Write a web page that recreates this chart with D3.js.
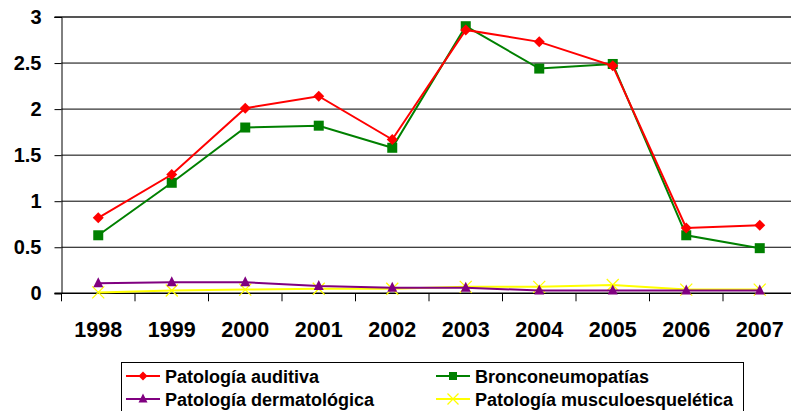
<!DOCTYPE html>
<html><head><meta charset="utf-8">
<script src="https://cdn.jsdelivr.net/npm/d3@7"></script>
<style>body{margin:0;background:#fff}svg{display:block;font-family:"Liberation Sans",Arial,sans-serif;font-weight:bold}</style>
</head><body><svg id="c" width="791" height="411"></svg>
<script>
const years = ["1998","1999","2000","2001","2002","2003","2004","2005","2006","2007"];
const auditiva = [0.82,1.29,2.01,2.14,1.67,2.86,2.73,2.47,0.71,0.74];
const bronco = [0.63,1.20,1.80,1.82,1.58,2.90,2.44,2.49,0.63,0.49];
const dermato = [0.11,0.12,0.12,0.08,0.06,0.06,0.03,0.03,0.03,0.03];
const musculo = [0.01,0.03,0.04,0.05,0.05,0.07,0.07,0.09,0.04,0.04];
const yTicks = [0,0.5,1,1.5,2,2.5,3];
const seriesNames = ["Patología auditiva","Bronconeumopatías","Patología dermatológica","Patología musculoesquelética"];

const svg = d3.select("#c");
const L = 61.5, R = 796.5, T = 17, B = 293.3;
const x = d3.scaleBand().domain(years).range([L,R]);
const y = d3.scaleLinear().domain([0,3]).range([B,T]);

// gridlines
svg.append("g").selectAll("line").data(yTicks.filter(d=>d>0&&d<3)).join("line")
  .attr("x1",L).attr("x2",791).attr("y1",d=>y(d)).attr("y2",d=>y(d))
  .attr("stroke","#000").attr("stroke-width",1);
svg.append("line").attr("x1",L-7).attr("x2",791).attr("y1",y(3)).attr("y2",y(3)).attr("stroke","#555").attr("stroke-width",2);

// y axis
const ya = svg.append("g").attr("transform",`translate(${L},0)`)
  .call(d3.axisLeft(y).tickValues(yTicks).tickFormat(d=>String(d)).tickSize(7).tickPadding(13));
ya.select(".domain").attr("stroke","#000");
ya.selectAll("text").attr("font-size",20).attr("font-weight","bold").attr("fill","#000").attr("font-family","Liberation Sans, Arial");

// x axis
const xa = svg.append("g").attr("transform",`translate(0,${B})`)
  .call(d3.axisBottom(x).tickSize(0).tickPadding(28));
xa.select(".domain").remove();
xa.selectAll("text").attr("font-size",21.5).attr("font-weight","bold").attr("fill","#000").attr("font-family","Liberation Sans, Arial");
svg.append("line").attr("x1",L-7).attr("x2",791).attr("y1",B).attr("y2",B).attr("stroke","#000").attr("stroke-width",1.5);
svg.append("g").selectAll("line").data(years).join("line")
  .attr("x1",d=>x(d)).attr("x2",d=>x(d)).attr("y1",B).attr("y2",B+8).attr("stroke","#000");

const cx = d=>x(d)+x.bandwidth()/2;
const line = d3.line().x((v,i)=>cx(years[i])).y(v=>y(v));

function marker(g, type, color, s){
  if(type==="diamond") g.append("path").attr("d",`M0,${-s}L${s},0L0,${s}L${-s},0Z`).attr("fill",color);
  else if(type==="square") g.append("rect").attr("x",-s).attr("y",-s).attr("width",2*s).attr("height",2*s).attr("fill",color);
  else if(type==="triangle") g.append("path").attr("d",`M0,${-s*1.2}L${s},${s*0.8}L${-s},${s*0.8}Z`).attr("fill",color);
  else if(type==="x") g.append("path").attr("d",`M${-s},${-s}L${s},${s}M${-s},${s}L${s},${-s}`).attr("stroke",color).attr("stroke-width",1.3).attr("fill","none");
}

const series = [
  {vals:musculo, color:"#ffff00", m:"x", s:6},
  {vals:dermato, color:"#800080", m:"triangle", s:5},
  {vals:bronco, color:"#008000", m:"square", s:5},
  {vals:auditiva, color:"#ff0000", m:"diamond", s:5.5},
];
series.forEach(sr=>{
  svg.append("path").attr("d",line(sr.vals)).attr("fill","none").attr("stroke",sr.color).attr("stroke-width",2);
  sr.vals.forEach((v,i)=>{
    const g = svg.append("g").attr("transform",`translate(${cx(years[i])},${y(v)})`);
    marker(g, sr.m, sr.color, sr.s);
  });
});

// legend
const lg = svg.append("g");
lg.append("rect").attr("x",121.5).attr("y",362.5).attr("width",622).attr("height",60).attr("fill","#fff").attr("stroke","#000");
const leg = [
  {name:seriesNames[0], color:"#ff0000", m:"diamond", s:4.5, lx:126, ly:376},
  {name:seriesNames[1], color:"#008000", m:"square", s:4, lx:436, ly:376},
  {name:seriesNames[2], color:"#800080", m:"triangle", s:4.5, lx:126, ly:399},
  {name:seriesNames[3], color:"#ffff00", m:"x", s:5.5, lx:436, ly:399},
];
leg.forEach(d=>{
  lg.append("line").attr("x1",d.lx).attr("x2",d.lx+34).attr("y1",d.ly).attr("y2",d.ly).attr("stroke",d.color).attr("stroke-width",2);
  const g = lg.append("g").attr("transform",`translate(${d.lx+17},${d.ly})`);
  marker(g,d.m,d.color,d.s);
  lg.append("text").attr("x",d.lx+39).attr("y",d.ly+6.5).attr("font-size",18).attr("font-weight","bold").text(d.name);
});
</script></body></html>
